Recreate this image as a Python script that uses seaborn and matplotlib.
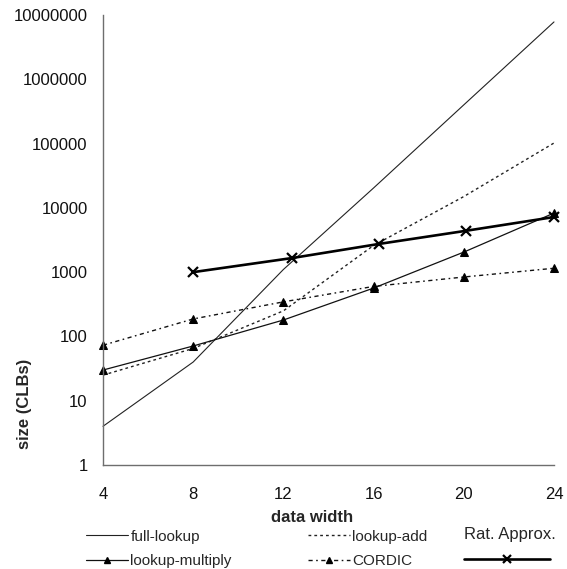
import matplotlib
matplotlib.use("Agg")
import matplotlib.pyplot as plt
import seaborn as sns
import numpy as np
import pandas as pd
from matplotlib.lines import Line2D
from matplotlib.ticker import FixedLocator, FixedFormatter, NullLocator

# ---- data ----
widths = [4, 8, 12, 16, 20, 24]
full_lookup = [4, 40, 1100, 20400, 400000, 7800000]
lookup_add = [25, 65, 250, 2600, 15000, 102000]
lookup_multiply = [30, 71, 180, 565, 2050, 8300]
cordic = [73, 187, 345, 600, 840, 1150]
rat_widths = [8, 12.4, 16.25, 20.1, 24]
rat_approx = [1000, 1660, 2750, 4400, 7200]

yticks = [1, 10, 100, 1000, 10000, 100000, 1000000, 10000000]
ytick_labels = ["1", "10", "100", "1000", "10000", "100000", "1000000", "10000000"]
xticks = [4, 8, 12, 16, 20, 24]

sns.set_style("white")
plt.rcParams['font.family'] = ['Liberation Sans', 'DejaVu Sans']

fig = plt.figure(figsize=(5.67, 5.69), dpi=100)
ax = fig.add_axes([103/567, 1-465/569, (554-103)/567, (465-15)/569])

axis_col = '#6e6e6e'

df = pd.DataFrame({"w": widths, "full": full_lookup, "add": lookup_add,
                   "mult": lookup_multiply, "cordic": cordic})
df_rat = pd.DataFrame({"w": rat_widths, "rat": rat_approx})

add_ls = (0, (2, 2.2))
cord_ls = (0, (3, 2.5, 1.2, 2.5))

sns.lineplot(data=df, x="w", y="full", ax=ax, color='#222222', lw=0.8,
             clip_on=False)
sns.lineplot(data=df, x="w", y="add", ax=ax, color='#222222', lw=1.0,
             linestyle=add_ls, clip_on=False)
sns.lineplot(data=df, x="w", y="mult", ax=ax, color='#111111', lw=0.9,
             marker='^', markersize=5.5, markeredgecolor='black',
             markerfacecolor='black', clip_on=False)
sns.lineplot(data=df, x="w", y="cordic", ax=ax, color='#111111', lw=1.0,
             linestyle=cord_ls, marker='^', markersize=5.5,
             markeredgecolor='black', markerfacecolor='black', clip_on=False)
sns.lineplot(data=df_rat, x="w", y="rat", ax=ax, color='black', lw=1.9,
             marker='x', markersize=6.5, markeredgewidth=1.6,
             markeredgecolor='black', clip_on=False)

ax.set_yscale('log')
ax.set_xlim(4, 24)
ax.set_ylim(1, 10000000)
ax.yaxis.set_major_locator(FixedLocator(yticks))
ax.yaxis.set_major_formatter(FixedFormatter(ytick_labels))
ax.yaxis.set_minor_locator(NullLocator())
ax.set_xticks(xticks)
ax.set_xticklabels([str(x) for x in xticks])

for s in ['top', 'right']:
    ax.spines[s].set_visible(False)
for s in ['left', 'bottom']:
    ax.spines[s].set_color(axis_col)
    ax.spines[s].set_linewidth(1.0)

ax.tick_params(axis='both', direction='out', length=5, width=1.0,
               color=axis_col, labelsize=12, labelcolor='#111111')
ax.tick_params(axis='x', pad=11)
ax.tick_params(axis='y', pad=6)

ax.set_xlabel("")
ax.set_ylabel("")
fig.text(312/567, 1-518/569, "data width", ha='center', va='center',
         fontsize=12, fontweight='bold')
fig.text(25/567, 1-404/569, "size (CLBs)", ha='center', va='center',
         rotation=90, fontsize=12, fontweight='bold')

h_full = Line2D([], [], color='#222222', lw=0.8)
h_mult = Line2D([], [], color='#111111', lw=0.9, marker='^', markersize=5,
                markerfacecolor='black', markeredgecolor='black')
h_add = Line2D([], [], color='#222222', lw=1.0, linestyle=add_ls)
h_cord = Line2D([], [], color='#111111', lw=1.0, linestyle=cord_ls,
                marker='^', markersize=5,
                markerfacecolor='black', markeredgecolor='black')
leg1 = fig.legend(handles=[h_full, h_mult, h_add, h_cord],
                  labels=["full-lookup", "lookup-multiply", "lookup-add", "CORDIC"],
                  ncol=2, loc='center left', bbox_to_anchor=(86/567, 1-549/569),
                  frameon=False, fontsize=11, handlelength=2.75, handletextpad=0.15,
                  columnspacing=5.0, labelspacing=0.7, borderpad=0, borderaxespad=0)

fig.text(464/567, 1-535/569, "Rat. Approx.", ha='left', va='center', fontsize=12)
h_rat = Line2D([], [], color='black', lw=1.9, marker='x', markersize=6,
               markeredgewidth=1.6)
leg2 = fig.legend(handles=[h_rat], labels=[""],
                  loc='center left', bbox_to_anchor=(464/567, 1-560/569),
                  frameon=False, fontsize=11,
                  handlelength=5.6, handletextpad=0, borderpad=0, borderaxespad=0)

fig.savefig("out.png", dpi=100)
